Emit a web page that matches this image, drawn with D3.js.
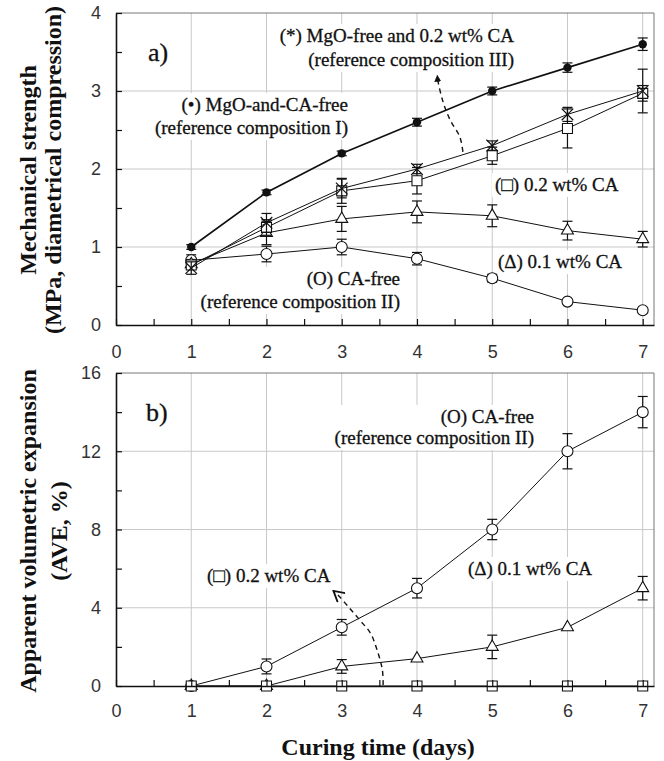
<!DOCTYPE html>
<html>
<head>
<meta charset="utf-8">
<script src="https://cdn.jsdelivr.net/npm/d3@7"></script>
<style>
  body { margin: 0; background: #fff; }
  svg { display: block; }
  .tick text { font-family: "Liberation Sans", Arial, sans-serif; font-size: 18px; fill: #333; }
  .note { font-family: "Liberation Serif", "Times New Roman", serif; font-size: 19px; fill: #111; stroke: #111; stroke-width: 0.3px; }
  .tag { font-family: "Liberation Serif", "Times New Roman", serif; font-size: 26px; fill: #111; stroke: #111; stroke-width: 0.3px; }
  .title { font-family: "Liberation Serif", "Times New Roman", serif; font-size: 24px; font-weight: bold; fill: #111; }
</style>
</head>
<body>
<svg id="chart" width="664" height="761"></svg>
<script>
/* ---- data ---- */
const days = [1, 2, 3, 4, 5, 6, 7];
const xTicks = [0, 1, 2, 3, 4, 5, 6, 7];
const strengthTicks = [0, 1, 2, 3, 4];
const aveTicks = [0, 4, 8, 12, 16];

// a) mechanical strength (MPa)
const msRef1 = [1.0, 1.7, 2.2, 2.6, 3.0, 3.3, 3.6];        // (•) MgO-and-CA-free
const msRef1Err = [0.03, 0.03, 0.03, 0.05, 0.05, 0.06, 0.08];
const msRef3 = [0.73, 1.31, 1.75, 2.0, 2.3, 2.7, 3.0];     // (*) MgO-free + 0.2 wt% CA
const msRef3Err = [0.08, 0.12, 0.12, 0.06, 0.06, 0.09, 0.28];
const msCA02 = [0.77, 1.25, 1.72, 1.85, 2.17, 2.52, 2.97]; // (□) 0.2 wt% CA
const msCA02Err = [0.05, 0.1, 0.16, 0.17, 0.11, 0.25, 0.1];
const msCA01 = [0.78, 1.18, 1.36, 1.45, 1.40, 1.21, 1.10]; // (Δ) 0.1 wt% CA
const msCA01Err = [0.06, 0.15, 0.16, 0.14, 0.14, 0.12, 0.1];
const msRef2 = [0.83, 0.91, 1.0, 0.85, 0.6, 0.3, 0.19];    // (O) CA-free
const msRef2Err = [0.07, 0.1, 0.1, 0.08, 0.05, 0, 0];

// b) apparent volumetric expansion (%)
const aveRef2 = [0, 1, 3, 5, 8, 12, 14];
const aveRef2Err = [0, 0.38, 0.4, 0.5, 0.52, 0.9, 0.8];
const aveCA01 = [0, 0, 1, 1.4, 2, 3, 5];
const aveCA01Err = [0, 0, 0.35, 0, 0.6, 0, 0.6];
const aveCA02 = [0, 0, 0, 0, 0, 0, 0];

// dashed pointer arrows (data units)
const arrowA = [[4.61, 2.22], [4.57, 2.41], [4.44, 2.63], [4.35, 2.85], [4.28, 3.12], [4.27, 3.2]];
const arrowB = [[3.55, 0.05], [3.54, 0.82], [3.47, 1.84], [3.38, 2.71], [3.24, 3.37], [3.09, 4.04], [2.95, 4.65], [2.89, 4.86]];

/* ---- scales ---- */
const svg = d3.select('#chart');
const x = d3.scaleLinear().domain([0, 7.15]).range([116, 654]);
const yA = d3.scaleLinear().domain([0, 4]).range([325, 13]);
const yB = d3.scaleLinear().domain([0, 16]).range([686, 373]);

const defs = svg.append('defs');
defs.append('marker').attr('id', 'headFill')
  .attr('viewBox', '0 0 10 10').attr('refX', 9).attr('refY', 5)
  .attr('markerWidth', 7).attr('markerHeight', 7).attr('markerUnits', 'userSpaceOnUse')
  .attr('orient', 'auto')
  .append('path').attr('d', 'M0,0L10,5L0,10Z').attr('fill', '#111');
defs.append('marker').attr('id', 'headOpen')
  .attr('viewBox', '0 0 10 10').attr('refX', 9).attr('refY', 5)
  .attr('markerWidth', 13).attr('markerHeight', 13).attr('markerUnits', 'userSpaceOnUse')
  .attr('orient', 'auto')
  .append('path').attr('d', 'M1,0.5L9,5L1,9.5').attr('fill', 'none').attr('stroke', '#111').attr('stroke-width', 1.4);

function drawPanel(y, major, minorStep, labelEvery, xPad) {
  const g = svg.append('g');
  const [y0, y1] = y.range();

  // grid
  g.selectAll('.vg').data(days).enter().append('line')
    .attr('x1', d => x(d)).attr('x2', d => x(d)).attr('y1', y0).attr('y2', y1)
    .attr('stroke', '#c8c8c8').attr('stroke-width', 1);
  g.selectAll('.hg').data(major.slice(1, -1)).enter().append('line')
    .attr('x1', x.range()[0]).attr('x2', x.range()[1]).attr('y1', d => y(d)).attr('y2', d => y(d))
    .attr('stroke', '#c8c8c8').attr('stroke-width', 1);

  const boxLayer = g.append('g');
  const dataLayer = g.append('g');

  // frame (top, right)
  g.append('path')
    .attr('d', `M${x.range()[0]},${y1}H${x.range()[1]}V${y0}`)
    .attr('fill', 'none').attr('stroke', '#777').attr('stroke-width', 1);

  // axes
  const yAxis = d3.axisLeft(y)
    .tickValues(d3.range(major[0], major[major.length - 1] + 0.001, minorStep))
    .tickFormat(d => (Math.abs(d % labelEvery) < 1e-9 ? d : ''))
    .tickSize(-6).tickSizeOuter(0).tickPadding(15);
  const ya = g.append('g').attr('transform', `translate(${x.range()[0]},0)`).call(yAxis);

  const xAxis = d3.axisBottom(x)
    .tickValues(d3.range(0, 7.001, 0.5))
    .tickFormat(d => (Number.isInteger(d) && xTicks.includes(d) ? d : ''))
    .tickSize(-6).tickSizeOuter(0).tickPadding(xPad);
  const xa = g.append('g').attr('transform', `translate(0,${y0})`).call(xAxis);

  [ya, xa].forEach(a => {
    a.select('.domain').attr('stroke', '#111').attr('stroke-width', 1.6);
    a.selectAll('.tick line').attr('stroke', '#111').attr('stroke-width', 1.2);
  });

  return { g, boxLayer, dataLayer };
}

function drawSeries(layer, y, vals, errs, shape, lineW) {
  const pts = days.map((d, i) => ({ d, v: vals[i], e: errs ? errs[i] : 0 }));
  layer.append('path').datum(pts)
    .attr('d', d3.line().x(p => x(p.d)).y(p => y(p.v)))
    .attr('fill', 'none').attr('stroke', '#111').attr('stroke-width', lineW || 1);

  const eb = layer.append('g').attr('stroke', '#111').attr('stroke-width', 1.2);
  pts.filter(p => p.e > 0).forEach(p => {
    const cx = x(p.d), t = y(p.v + p.e), b = y(p.v - p.e);
    eb.append('line').attr('x1', cx).attr('x2', cx).attr('y1', t).attr('y2', b);
    eb.append('line').attr('x1', cx - 5).attr('x2', cx + 5).attr('y1', t).attr('y2', t);
    eb.append('line').attr('x1', cx - 5).attr('x2', cx + 5).attr('y1', b).attr('y2', b);
  });

  const m = layer.append('g');
  pts.forEach(p => {
    const cx = x(p.d), cy = y(p.v);
    if (shape === 'dot') {
      m.append('circle').attr('cx', cx).attr('cy', cy).attr('r', 4.2).attr('fill', '#111');
    } else if (shape === 'circle') {
      m.append('circle').attr('cx', cx).attr('cy', cy).attr('r', 5.5)
        .attr('fill', '#fff').attr('stroke', '#111').attr('stroke-width', 1.1);
    } else if (shape === 'x') {
      m.append('path').attr('transform', `translate(${cx},${cy})`)
        .attr('d', d3.symbol(d3.symbolX, 90)())
        .attr('fill', 'none').attr('stroke', '#111').attr('stroke-width', 1.2);
    } else {
      const type = shape === 'square' ? d3.symbolSquare : d3.symbolTriangle;
      const size = shape === 'square' ? 100 : 62;
      m.append('path').attr('transform', `translate(${cx},${cy})`)
        .attr('d', d3.symbol(type, size)())
        .attr('fill', '#fff').attr('stroke', '#111').attr('stroke-width', 1.1);
    }
  });
}

function note(p, lines, xPos, yPos, anchor, lh, cls) {
  const t = p.g.append('text').attr('class', cls || 'note').attr('text-anchor', anchor);
  lines.forEach((s, i) => {
    t.append('tspan').attr('x', xPos).attr('y', yPos + i * lh).text(s);
  });
  const bb = t.node().getBBox();
  p.boxLayer.append('rect')
    .attr('x', bb.x - 3).attr('y', bb.y - 1).attr('width', bb.width + 6).attr('height', bb.height + 2)
    .attr('fill', '#fff');
}

/* ---- panel a ---- */
const pa = drawPanel(yA, strengthTicks, 0.5, 1, 20);
drawSeries(pa.dataLayer, yA, msRef2, msRef2Err, 'circle');
drawSeries(pa.dataLayer, yA, msCA01, msCA01Err, 'triangle');
drawSeries(pa.dataLayer, yA, msCA02, msCA02Err, 'square');
drawSeries(pa.dataLayer, yA, msRef3, msRef3Err, 'x');
drawSeries(pa.dataLayer, yA, msRef1, msRef1Err, 'dot', 1.7);

pa.dataLayer.append('path').datum(arrowA)
  .attr('d', d3.line().x(d => x(d[0])).y(d => yA(d[1])).curve(d3.curveCatmullRom))
  .attr('fill', 'none').attr('stroke', '#111').attr('stroke-width', 1.4)
  .attr('stroke-dasharray', '5,4').attr('marker-end', 'url(#headFill)');

note(pa, ['a)'], 148, 61, 'start', 0, 'tag');
note(pa, ['(*) MgO-free and 0.2 wt% CA', '(reference composition III)'], 514, 42, 'end', 24);
note(pa, ['(\u2022) MgO-and-CA-free', '(reference composition I)'], 348, 111, 'end', 23);
note(pa, ['(\u25A1) 0.2 wt% CA'], 495, 191, 'start', 0);
note(pa, ['(\u0394) 0.1 wt% CA'], 498, 268, 'start', 0);
note(pa, ['(O) CA-free', '(reference composition II)'], 400, 285, 'end', 23);

/* ---- panel b ---- */
const pb = drawPanel(yB, aveTicks, 2, 4, 18);
drawSeries(pb.dataLayer, yB, aveRef2, aveRef2Err, 'circle');
drawSeries(pb.dataLayer, yB, aveCA01, aveCA01Err, 'triangle');
drawSeries(pb.dataLayer, yB, aveCA02, null, 'square');

pb.dataLayer.append('path').datum(arrowB)
  .attr('d', d3.line().x(d => x(d[0])).y(d => yB(d[1])).curve(d3.curveCatmullRom))
  .attr('fill', 'none').attr('stroke', '#111').attr('stroke-width', 1.4)
  .attr('stroke-dasharray', '5,4').attr('marker-end', 'url(#headOpen)');

note(pb, ['b)'], 146, 421, 'start', 0, 'tag');
note(pb, ['(O) CA-free', '(reference composition II)'], 534, 423, 'end', 21);
note(pb, ['(\u25A1) 0.2 wt% CA'], 207, 582, 'start', 0);
note(pb, ['(\u0394) 0.1 wt% CA'], 468, 575, 'start', 0);

/* ---- axis titles ---- */
function vTitle(lines, xs, cy) {
  lines.forEach((s, i) => {
    svg.append('text').attr('class', 'title').attr('text-anchor', 'middle')
      .attr('transform', `translate(${xs[i]},${cy}) rotate(-90)`).text(s);
  });
}
vTitle(['Mechanical strength', '(MPa, diametrical compression)'], [36, 61], 170);
vTitle(['Apparent volumetric expansion', '(AVE, %)'], [36, 67], 531);

svg.append('text').attr('class', 'title').attr('text-anchor', 'middle')
  .attr('x', 378).attr('y', 755).text('Curing time (days)');
</script>
</body>
</html>
